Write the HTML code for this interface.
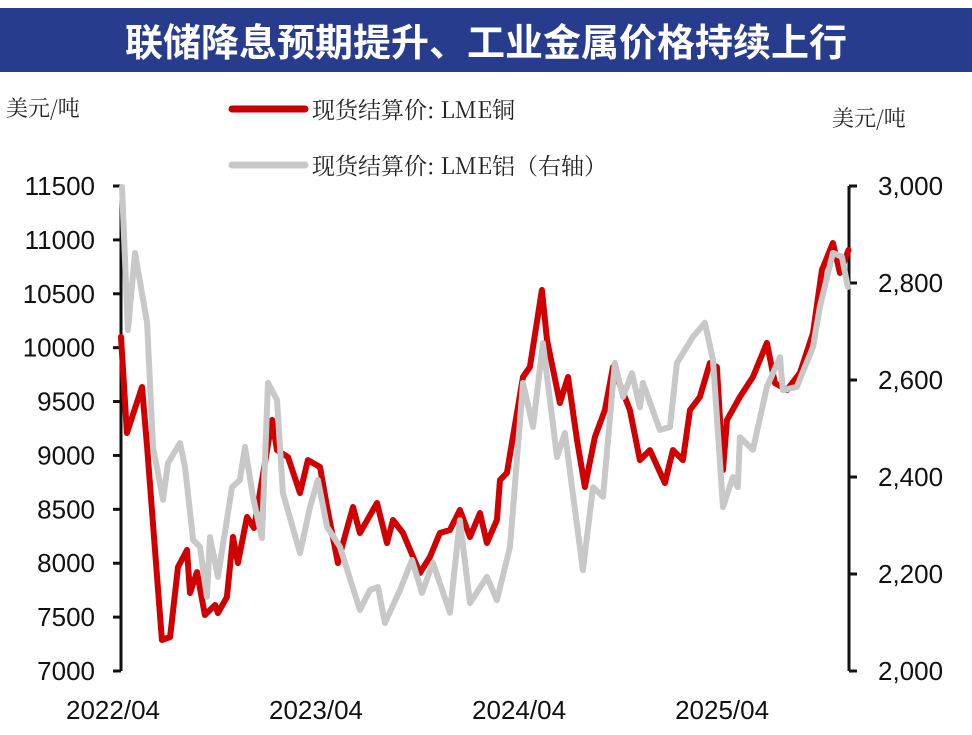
<!DOCTYPE html>
<html><head><meta charset="utf-8"><style>
body{margin:0;background:#fff;width:972px;height:730px;overflow:hidden}
svg text{font-family:"Liberation Sans","Noto Sans CJK SC",sans-serif}
</style></head><body>
<svg width="972" height="730" viewBox="0 0 972 730">
<rect x="0" y="8" width="972" height="64" fill="#283c8e"/>
<text x="486" y="56" text-anchor="middle" font-size="38" font-weight="bold" fill="#fff" style="font-family:'Noto Sans CJK SC',sans-serif">联储降息预期提升、工业金属价格持续上行</text>
<text x="6" y="116" font-size="22" fill="#222" style="font-family:'Noto Serif CJK SC',serif">美元/吨</text>
<text x="832" y="126" font-size="22" fill="#222" style="font-family:'Noto Serif CJK SC',serif">美元/吨</text>
<g>
<line x1="232" y1="109" x2="305" y2="109" stroke="#c80000" stroke-width="7" stroke-linecap="round"/>
<text x="312" y="118" font-size="23" fill="#222" style="font-family:'Noto Serif CJK SC',serif">现货结算价: LME铜</text>
<line x1="232" y1="165" x2="305" y2="165" stroke="#c8c8c8" stroke-width="7" stroke-linecap="round"/>
<text x="312" y="174" font-size="23" fill="#222" style="font-family:'Noto Serif CJK SC',serif">现货结算价: LME铝（右轴）</text>
</g>
<g id="axes"></g>
<g id="series"></g>
</svg>
<script>
const leftTicks=[7000,7500,8000,8500,9000,9500,10000,10500,11000,11500];
const rightTicks=[2000,2200,2400,2600,2800,3000];
const rightTickLabels=["2,000","2,200","2,400","2,600","2,800","3,000"];
const xTicks=[0,12,24,36];
const xTickLabels=["2022/04","2023/04","2024/04","2025/04"];
const copperMonths=[0,0.35,1.24,1.54,2.42,2.9,3.37,3.9,4.08,4.49,4.96,5.56,5.73,6.26,6.62,6.91,7.45,7.86,8.93,9.22,9.87,10.58,11.05,11.76,12.18,12.82,13.12,13.71,14.12,15.13,15.72,16.08,16.67,17.67,18.26,18.85,19.44,20.03,20.63,21.22,21.63,22.22,22.4,22.81,23.76,24.17,24.88,25.18,25.94,26.42,26.95,27.42,28.01,28.6,29.08,30.08,30.67,31.26,32.15,32.62,33.21,33.63,34.22,34.81,35.22,35.58,35.82,36.58,37.35,38.18,38.65,39.36,40.13,40.9,41.43,42.08,42.5,43.0];
const copperValues=[10100,9208,9635,9080,7288,7315,7965,8123,7724,7918,7520,7612,7538,7686,8243,8002,8429,8327,9329,9050,8985,8651,8957,8893,8522,8002,8188,8522,8280,8559,8188,8401,8280,7909,8058,8280,8308,8494,8243,8466,8188,8401,8772,8837,9728,9821,10535,10072,9487,9728,9143,8707,9172,9422,9821,9422,8957,9050,8744,9050,8957,9422,9543,9858,9821,8865,9329,9543,9728,10044,9672,9607,9765,10136,10721,10971,10693,10906];
const aluMonths=[0.06,0.41,0.83,1.54,1.89,2.48,2.78,3.49,3.78,4.26,4.67,5.08,5.26,5.73,6.56,7.03,7.33,7.8,8.33,8.69,9.22,9.57,10.58,11.17,11.64,12.18,12.94,14.12,14.72,15.19,15.6,16.49,17.2,17.79,18.44,19.44,20.03,20.63,21.63,22.22,22.99,23.76,24.35,24.94,25.77,26.24,27.3,27.9,28.49,29.19,29.67,30.2,30.67,30.85,31.85,32.45,32.86,33.81,34.51,34.99,35.58,36.17,36.46,36.58,37.35,38.18,38.95,39.12,39.95,40.9,41.31,42.08,42.61,42.96];
const aluValues=[2998,2703,2862,2718,2462,2353,2429,2470,2421,2270,2256,2153,2276,2194,2379,2394,2462,2359,2274,2594,2559,2367,2243,2338,2394,2297,2256,2126,2167,2173,2099,2167,2229,2161,2223,2120,2311,2140,2194,2146,2256,2594,2503,2676,2441,2491,2208,2379,2359,2635,2565,2614,2544,2594,2497,2503,2635,2689,2718,2641,2338,2400,2379,2482,2456,2586,2647,2579,2586,2668,2751,2862,2854,2792];

const X0=121,X1=849,Y0=671,Y1=186;
const xs=m=>X0+m/43.03*(X1-X0);
const yl=v=>Y0-(v-7000)/4500*(Y0-Y1);
const yr=v=>Y0-(v-2000)/1000*(Y0-Y1);
const NS="http://www.w3.org/2000/svg";
function mk(tag,attrs,parent){const e=document.createElementNS(NS,tag);for(const k in attrs)e.setAttribute(k,attrs[k]);parent.appendChild(e);return e;}
const ax=document.getElementById('axes'),se=document.getElementById('series');
let e;
e=mk('line',{x1:X0,y1:Y1,x2:X0,y2:Y0,stroke:'#111','stroke-width':3},ax);


e=mk('line',{x1:X1,y1:Y1,x2:X1,y2:Y0,stroke:'#111','stroke-width':3},ax);


leftTicks.forEach(v=>{
 e=mk('line',{x1:X0-8,y1:yl(v),x2:X0,y2:yl(v),stroke:'#111','stroke-width':3},ax);
 
 
 e=mk('text',{x:95,y:yl(v)+9,'text-anchor':'end','font-size':26,fill:'#111'},ax);
 e.textContent=v;
 
 
});
rightTicks.forEach((v,i)=>{
 e=mk('line',{x1:X1,y1:yr(v),x2:X1+8,y2:yr(v),stroke:'#111','stroke-width':3},ax);
 
 
 e=mk('text',{x:878,y:yr(v)+9,'font-size':26,fill:'#111'},ax);
 e.textContent=rightTickLabels[i];
 
 
});
xTicks.forEach((m,i)=>{
 e=mk('text',{x:xs(m)-8,y:719,'text-anchor':'middle','font-size':26,fill:'#111'},ax);
 e.textContent=xTickLabels[i];
 
 
});
function path(ms,vs,yf){return ms.map((m,i)=>(i?'L':'M')+xs(m).toFixed(1)+','+yf(vs[i]).toFixed(1)).join(' ');}
e=mk('path',{d:path(copperMonths,copperValues,yl),fill:'none',stroke:'#d00000','stroke-width':6,'stroke-linejoin':'round','stroke-linecap':'round'},se);


e=mk('path',{d:path(aluMonths,aluValues,yr),fill:'none',stroke:'#c8c8c8','stroke-width':6,'stroke-linejoin':'round','stroke-linecap':'round'},se);


</script>
</body></html>
